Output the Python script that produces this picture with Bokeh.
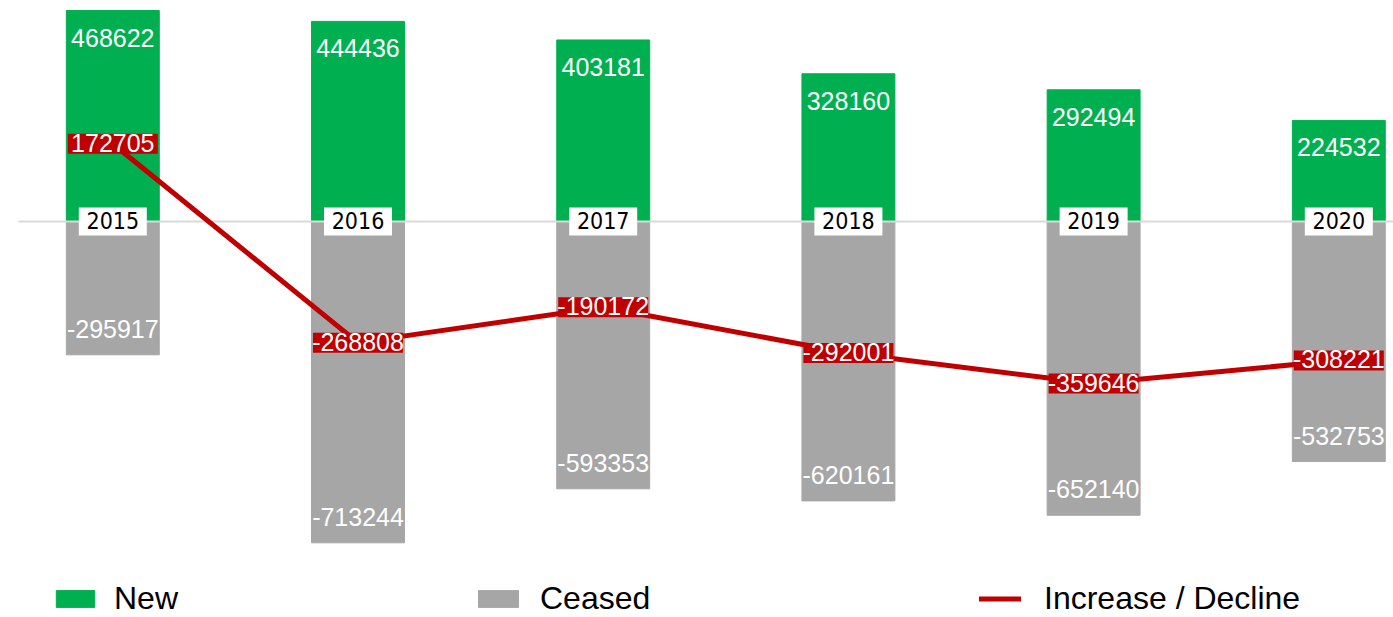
import numpy as np
from bokeh.plotting import figure
from bokeh.models import ColumnDataSource, Range1d, Legend, LegendItem
from bokeh.core.properties import value
from bokeh.embed import file_html
from bokeh.resources import INLINE

years = ["2015", "2016", "2017", "2018", "2019", "2020"]
new = [468622, 444436, 403181, 328160, 292494, 224532]
ceased = [-295917, -713244, -593353, -620161, -652140, -532753]
net = [172705, -268808, -190172, -292001, -359646, -308221]

GREEN = "#00B050"
GRAY = "#A6A6A6"
RED = "#C00000"
FONT = "'Liberation Sans', Arial, sans-serif"
NARROW = "'Liberation Sans Narrow', 'Arial Narrow', 'DejaVu Sans Condensed', sans-serif"

x = list(range(len(years)))
src = ColumnDataSource(dict(
    x=x, year=years, new=new, ceased=ceased, net=net, zero=[0] * len(years),
    new_lbl=[str(v) for v in new],
    ceased_lbl=[str(v) for v in ceased],
    net_lbl=[str(v) for v in net],
))

W, H = 1393, 617
p = figure(width=W, height=H, output_backend="svg", toolbar_location=None,
           x_range=Range1d(-0.458, 5.223), y_range=Range1d(-879100, 490825),
           x_axis_location=None, y_axis_location=None,
           min_border=0, outline_line_color=None, background_fill_color="white",
           border_fill_color="white")
p.grid.visible = False

BW = 0.379
r_new = p.vbar(x="x", top="new", bottom=0, width=BW, fill_color=GREEN, line_color=GREEN, source=src)
r_ces = p.vbar(x="x", top=0, bottom="ceased", width=BW, fill_color=GRAY, line_color=GRAY, source=src)

# zero line
p.segment(x0=-0.385, y0=0, x1=5.25, y1=0, line_color="#D9D9D9", line_width=2)

# year boxes
p.rect(x="x", y="zero", width=68, height=28, width_units="screen", height_units="screen",
       fill_color="white", line_color=None, source=src)
p.text(x="x", y="zero", text="year", source=src, text_align="center", text_baseline="middle",
       y_offset=-1, text_font=value(NARROW), text_font_size="23px", text_color="black")

# value labels
p.text(x="x", y="new", text="new_lbl", source=src, text_align="center", text_baseline="alphabetic",
       y_offset=27, text_font=value(FONT), text_font_size="25px", text_color="white")
p.text(x="x", y="ceased", text="ceased_lbl", source=src, text_align="center", text_baseline="alphabetic",
       y_offset=-26, text_font=value(FONT), text_font_size="25px", text_color="white")

# net line
r_net = p.line(x="x", y="net", line_color=RED, line_width=5, line_cap="round", source=src)
p.rect(x="x", y="net", width=90, height=20, width_units="screen", height_units="screen",
       fill_color=RED, line_color=None, source=src)
p.text(x="x", y="net", text="net_lbl", source=src, text_align="center", text_baseline="middle",
       y_offset=-1, text_font=value(FONT), text_font_size="25px", text_color="white")


def add_legend(label, r, loc, gw, gh, standoff):
    lg = Legend(items=[LegendItem(label=label, renderers=[r])], location=loc,
                orientation="horizontal", label_text_font=FONT, label_text_font_size="32px",
                label_text_color="black", glyph_width=gw, glyph_height=gh,
                label_standoff=standoff, padding=0, margin=0, spacing=0,
                border_line_color=None, background_fill_alpha=0)
    p.add_layout(lg)


add_legend("New", r_new, (51, 0), 48, 21, 15)
add_legend("Ceased", r_ces, (473, 0), 50, 21, 17)
add_legend("Increase / Decline", r_net, (979, 0), 42, 21, 23)

open("out.html", "w").write(file_html(p, INLINE))
